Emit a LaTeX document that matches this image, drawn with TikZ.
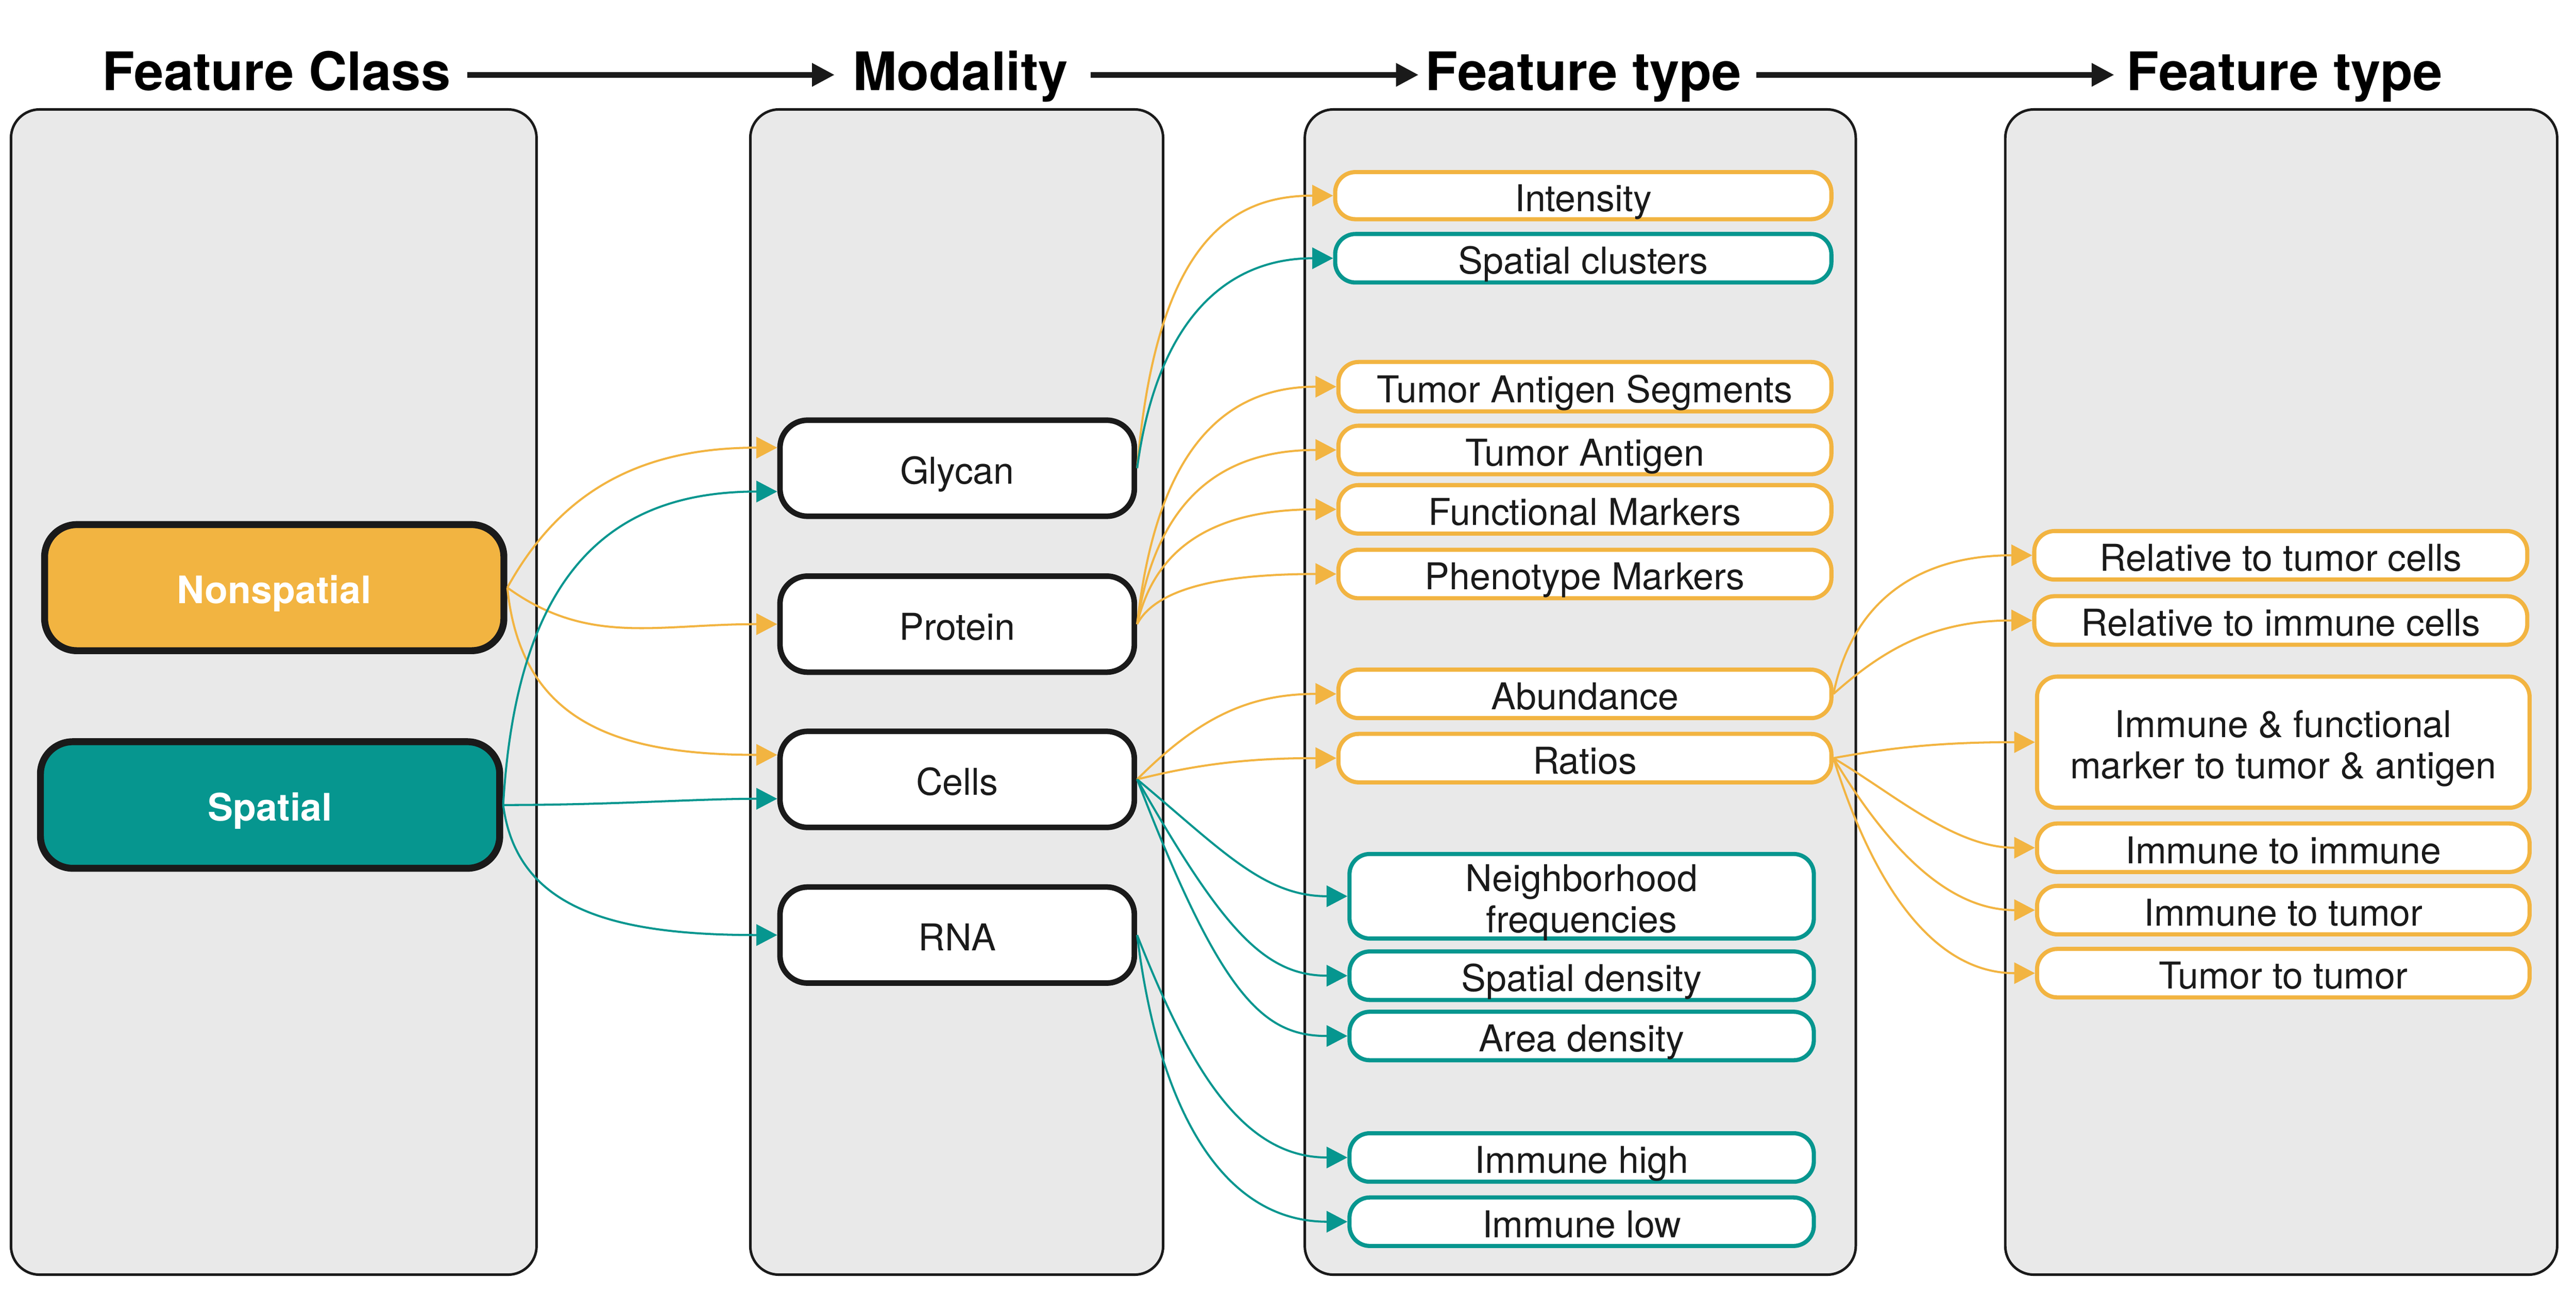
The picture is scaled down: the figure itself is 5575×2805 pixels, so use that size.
\documentclass[tikz,border=0pt]{standalone}
\usepackage{fontspec}
\setmainfont{TeX Gyre Heros}
\usetikzlibrary{arrows.meta,calc}
\definecolor{forange}{RGB}{242,180,65}
\definecolor{fteal}{RGB}{6,150,143}
\definecolor{fpanel}{RGB}{233,233,233}
\definecolor{fdark}{RGB}{26,26,26}
% colour, source, target, a, b, c
\newcommand\fedge[6]{\draw[conn,#1] let \p1=(#2), \p2=(#3) in (\p1) .. controls ({\x1+#4*(\x2-\x1)},{\y1+#5*(\y2-\y1)}) and ({\x1+#6*(\x2-\x1)},{\y2}) .. (\p2);}
\newcommand\twolines[2]{\raisebox{0pt}[15.8pt][0pt]{\begin{tabular}[b]{@{}c@{}}#1\\#2\end{tabular}}}
\tikzset{
  title/.style={font=\fontsize{11.5pt}{13pt}\selectfont\bfseries, text=black, inner sep=0pt, text height=8.2pt, text depth=1.4pt},
  tarrow/.style={draw=fdark, line width=1.2pt, -{Triangle[length=4.9pt,width=4.8pt]}},
  panel/.style={draw=fdark, fill=fpanel, line width=0.55pt, rounded corners=6.2pt, inner sep=0pt, minimum height=252.25pt},
  sline/.style={text height=6.8pt, text depth=0pt},
  boxA/.style={draw=fdark, line width=1.5pt, rounded corners=7pt, minimum width=99.4pt, minimum height=27.3pt, inner sep=0pt, text=white, font=\fontsize{8.2pt}{9pt}\selectfont\bfseries, sline},
  boxB/.style={draw=fdark, fill=white, line width=1.2pt, rounded corners=6pt, minimum width=76.7pt, minimum height=20.8pt, inner sep=0pt, text=fdark, font=\fontsize{8pt}{8.9pt}\selectfont, sline},
  boxC/.style={fill=white, line width=0.9pt, rounded corners=4.4pt, minimum height=10.5pt, inner sep=0pt, text=fdark, font=\fontsize{8pt}{8.9pt}\selectfont},
  orbox/.style={boxC, draw=forange, minimum width=106.7pt},
  tebox/.style={boxC, draw=fteal, minimum width=100.5pt},
  conn/.style={line width=0.45pt, -{Triangle[length=4.5pt,width=4.6pt]}}
}
\begin{document}
\begin{tikzpicture}[x=0.1pt,y=-0.1pt]
\fill[white] (0,0) rectangle (5575,2805);
\useasboundingbox (0,0) rectangle (5575,2805);
% titles
\node[title] (t1) at (598,162) {Feature Class};
\node[title] (t2) at (2078.5,162) {Modality};
\node[title] (t3) at (3427,162) {Feature type};
\node[title] (t4) at (4944.5,162) {Feature type};
\draw[tarrow, shorten <=3.4pt, shorten >=3.7pt] (t1) -- (t2);
\draw[tarrow, shorten <=4.7pt, shorten >=1.3pt] (t2) -- (t3);
\draw[tarrow, shorten <=3pt, shorten >=2.5pt] (t3) -- (t4);
% panels
\node[panel, minimum width=113.75pt] (p1) at (592.5,1498) {};
\node[panel, minimum width=89.35pt] (p2) at (2070.5,1498) {};
\node[panel, minimum width=119.25pt] (p3) at (3420,1498) {};
\node[panel, minimum width=119.45pt] (p4) at (4937,1498) {};
% feature class
\node[boxA, fill=forange] (nonsp) at (593.5,1272) {Nonspatial};
\node[boxA, fill=fteal, minimum height=27.4pt] (spat) at (584.5,1742.5) {Spatial};
% modality
\node[boxB] (glycan) at (2071.5,1013.5) {Glycan};
\node[boxB] (protein) at (2071.5,1351) {Protein};
\node[boxB] (cells) at (2071.5,1687) {Cells};
\node[boxB] (rna) at (2071.5,2024) {RNA};
% feature type 1
\node[orbox, sline, minimum width=107.4pt, minimum height=10.2pt] (intens) at (3426.5,423.5) {Intensity};
\node[boxC, draw=fteal, sline, minimum width=107.4pt] (sclust) at (3426.5,559) {Spatial clusters};
\node[orbox, sline, minimum height=10.7pt] (tas) at (3430,837) {Tumor Antigen Segments};
\node[orbox, sline] (ta) at (3430,974) {Tumor Antigen};
\node[orbox, sline] (fm) at (3430,1102.5) {Functional Markers};
\node[orbox, sline] (pm) at (3430,1242.5) {Phenotype Markers};
\node[orbox, sline] (abund) at (3430,1502) {Abundance};
\node[orbox, sline] (ratios) at (3430,1641) {Ratios};
\node[tebox, minimum height=18.3pt] (neigh) at (3423,1940) {\twolines{Neighborhood}{frequencies}};
\node[tebox, sline] (sdens) at (3423,2112) {Spatial density};
\node[tebox, sline] (adens) at (3423,2242.5) {Area density};
\node[tebox, sline] (ihigh) at (3423,2505.5) {Immune high};
\node[tebox, sline] (ilow) at (3423,2644.5) {Immune low};
% feature type 2
\node[orbox, sline] (reltum) at (4936,1202) {Relative to tumor cells};
\node[orbox, sline] (relimm) at (4936,1343) {Relative to immune cells};
\node[orbox, minimum width=106.6pt, minimum height=28.4pt] (ifm) at (4941.5,1606.5) {\twolines{Immune \& functional}{marker to tumor \& antigen}};
\node[orbox, sline, minimum width=106.6pt] (itoi) at (4941.5,1835) {Immune to immune};
\node[orbox, sline, minimum width=106.6pt] (itot) at (4941.5,1970) {Immune to tumor};
\node[orbox, sline, minimum width=106.6pt] (ttot) at (4941.5,2106.5) {Tumor to tumor};
% connectors: feature class -> modality
\fedge{forange}{nonsp.east}{[yshift=4.45pt]glycan.west}{0.2}{0.7}{0.5}
\fedge{forange}{nonsp.east}{protein.west}{0.3}{1.6}{0.55}
\fedge{forange}{nonsp.east}{[yshift=5.3pt]cells.west}{0.05}{0.8}{0.4}
\fedge{fteal}{spat.east}{[yshift=-5.05pt]glycan.west}{0.05}{0.75}{0.4}
\fedge{fteal}{spat.east}{[yshift=-4.2pt]cells.west}{0.4}{0}{0.7}
\fedge{fteal}{spat.east}{rna.west}{0.05}{0.8}{0.4}
% modality -> feature type
\fedge{forange}{glycan.east}{intens.west}{0.1}{0.85}{0.5}
\fedge{fteal}{glycan.east}{sclust.west}{0.1}{0.7}{0.45}
\fedge{forange}{protein.east}{tas.west}{0.1}{0.75}{0.45}
\fedge{forange}{protein.east}{ta.west}{0.1}{0.75}{0.45}
\fedge{forange}{protein.east}{fm.west}{0.1}{0.75}{0.45}
\fedge{forange}{protein.east}{pm.west}{0.1}{0.75}{0.45}
\fedge{forange}{cells.east}{abund.west}{0.3}{0.7}{0.55}
\fedge{forange}{cells.east}{ratios.west}{0.3}{0.7}{0.55}
\fedge{fteal}{cells.east}{neigh.west}{0.4}{0.6}{0.6}
\fedge{fteal}{cells.east}{sdens.west}{0.4}{0.75}{0.6}
\fedge{fteal}{cells.east}{adens.west}{0.4}{0.85}{0.6}
\fedge{fteal}{rna.east}{ihigh.west}{0.25}{0.6}{0.5}
\fedge{fteal}{rna.east}{ilow.west}{0.1}{0.6}{0.4}
% feature type -> feature type
\fedge{forange}{abund.east}{reltum.west}{0.1}{0.7}{0.45}
\fedge{forange}{abund.east}{relimm.west}{0.25}{0.6}{0.5}
\fedge{forange}{ratios.east}{ifm.west}{0.3}{0.7}{0.55}
\fedge{forange}{ratios.east}{itoi.west}{0.3}{0.4}{0.6}
\fedge{forange}{ratios.east}{itot.west}{0.25}{0.55}{0.55}
\fedge{forange}{ratios.east}{ttot.west}{0.2}{0.6}{0.5}
\end{tikzpicture}
\end{document}
